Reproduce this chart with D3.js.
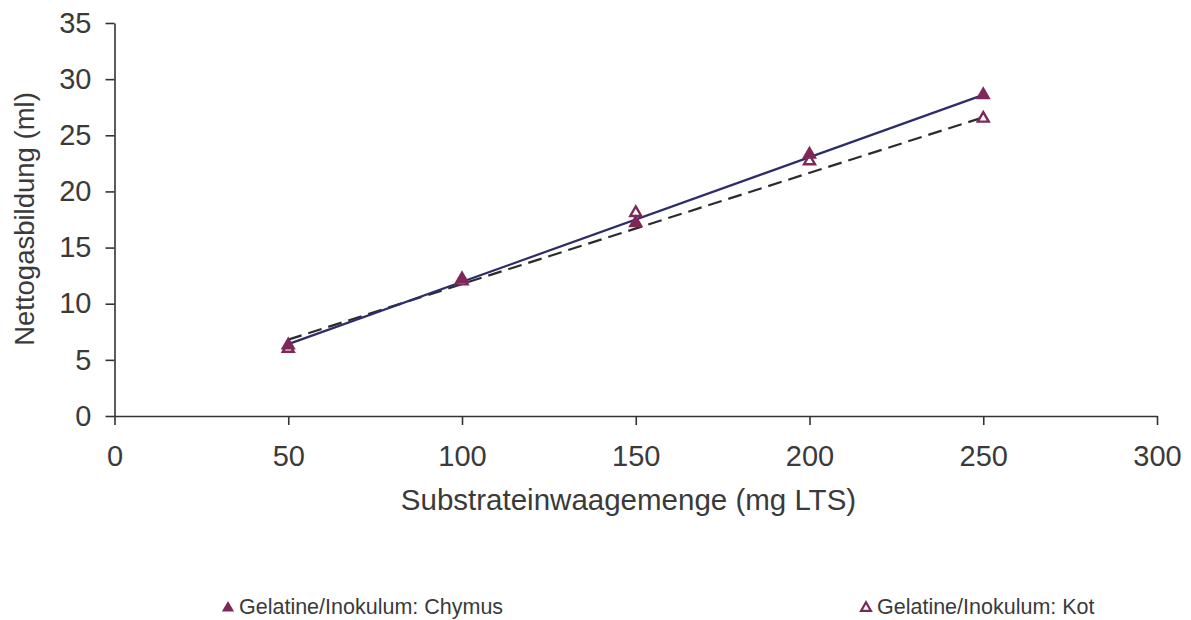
<!DOCTYPE html>
<html>
<head>
<meta charset="utf-8">
<script src="https://cdn.jsdelivr.net/npm/d3@7"></script>
<style>
  body { margin: 0; background: #fff; }
  svg { display: block; font-family: "Liberation Sans", Arial, sans-serif; }
</style>
</head>
<body>
<svg id="chart" width="1191" height="620"></svg>
<script>
// Substrate amounts (mg LTS)
const doses = [50, 100, 150, 200, 250];
// Net gas production (ml)
const chymus = [6.3, 12.2, 17.2, 23.3, 28.6];
const kot = [6.0, 12.0, 18.1, 22.7, 26.5];
// Linear trend lines, values at the first and last dose
const trendX = [50, 250];
const chymusTrend = [6.4, 28.6];
const kotTrend = [6.8, 26.6];

const xTicks = [0, 50, 100, 150, 200, 250, 300];
const yTicks = [0, 5, 10, 15, 20, 25, 30, 35];
const seriesNames = ["Gelatine/Inokulum: Chymus", "Gelatine/Inokulum: Kot"];

const markerColor = "#7e2858";
const axisColor = "#333333";
const textColor = "#3a3a3a";

const svg = d3.select("#chart");
const m = { left: 114.5, right: 1157, top: 23, bottom: 416 };

const x = d3.scaleLinear().domain([0, 300]).range([m.left, m.right]);
const y = d3.scaleLinear().domain([0, 35]).range([m.bottom, m.top]);

// Axes
const xAxis = svg.append("g")
  .attr("transform", `translate(0,${m.bottom})`)
  .call(d3.axisBottom(x).tickValues(xTicks).tickSize(9).tickSizeOuter(0).tickPadding(20));
const yAxis = svg.append("g")
  .attr("transform", `translate(${m.left},0)`)
  .call(d3.axisLeft(y).tickValues(yTicks).tickSize(9).tickSizeOuter(0).tickPadding(14));

[xAxis, yAxis].forEach(g => {
  g.attr("font-size", null);
  g.select(".domain").attr("stroke", axisColor).attr("stroke-width", 1.6);
  g.selectAll(".tick line").attr("stroke", axisColor).attr("stroke-width", 1.6);
  g.selectAll(".tick text").attr("fill", textColor)
    .style("font-size", "29px")
    .style("font-family", "Liberation Sans, Arial, sans-serif");
});

// Axis titles
svg.append("text")
  .attr("x", 628.5).attr("y", 510)
  .attr("text-anchor", "middle")
  .attr("fill", textColor).style("font-size", "29.5px")
  .text("Substrateinwaagemenge (mg LTS)");
svg.append("text")
  .attr("transform", `translate(34,219) rotate(-90)`)
  .attr("text-anchor", "middle")
  .attr("fill", textColor).style("font-size", "27.5px")
  .text("Nettogasbildung (ml)");

// Trend lines
const line = d3.line().x(d => x(d[0])).y(d => y(d[1]));
svg.append("path")
  .datum(trendX.map((v, i) => [v, kotTrend[i]]))
  .attr("d", line).attr("fill", "none")
  .attr("stroke", "#2b2b2b").attr("stroke-width", 2.2)
  .attr("stroke-dasharray", "14,7");
svg.append("path")
  .datum(trendX.map((v, i) => [v, chymusTrend[i]]))
  .attr("d", line).attr("fill", "none")
  .attr("stroke", "#2e2d6a").attr("stroke-width", 2.2);

// Triangle markers
svg.append("g").selectAll("path")
  .data(doses.map((d, i) => [d, kot[i]]))
  .join("path")
  .attr("d", d3.symbol().type(d3.symbolTriangle).size(52))
  .attr("transform", d => `translate(${x(d[0])},${y(d[1])})`)
  .attr("fill", "#fff").attr("stroke", markerColor).attr("stroke-width", 2.4);

svg.append("g").selectAll("path")
  .data(doses.map((d, i) => [d, chymus[i]]))
  .join("path")
  .attr("d", d3.symbol().type(d3.symbolTriangle).size(98))
  .attr("transform", d => `translate(${x(d[0])},${y(d[1])})`)
  .attr("fill", markerColor);

// Legend
const legend = [
  { name: seriesNames[0], x: 228, filled: true },
  { name: seriesNames[1], x: 866, filled: false }
];
legend.forEach(l => {
  svg.append("path")
    .attr("d", d3.symbol().type(d3.symbolTriangle).size(l.filled ? 64 : 42)())
    .attr("transform", `translate(${l.x},${608})`)
    .attr("fill", l.filled ? markerColor : "#fff")
    .attr("stroke", l.filled ? "none" : markerColor)
    .attr("stroke-width", l.filled ? 0 : 2.2);
  svg.append("text")
    .attr("x", l.x + 11).attr("y", 614)
    .attr("fill", textColor).style("font-size", "21.5px")
    .text(l.name);
});
</script>
</body>
</html>
